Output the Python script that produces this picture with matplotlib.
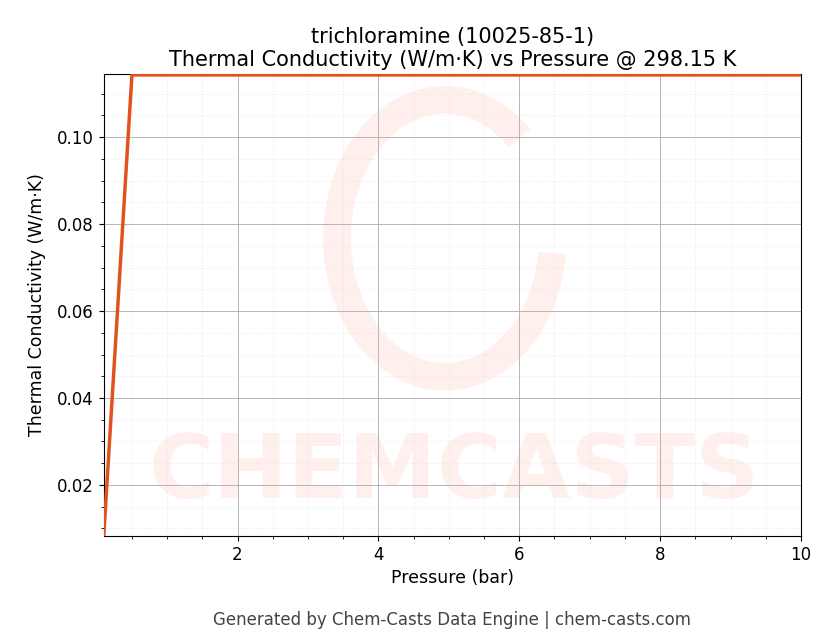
import matplotlib
matplotlib.use("Agg")
import matplotlib.pyplot as plt
from matplotlib.patches import Arc

pressure = [0.1, 0.5, 1, 2, 3, 4, 5, 6, 7, 8, 9, 10]
conductivity = [0.0083, 0.1143, 0.1143, 0.1143, 0.1143, 0.1143, 0.1143, 0.1143, 0.1143, 0.1143, 0.1143, 0.1143]

fig = plt.figure(figsize=(8.3, 6.44), dpi=100)
ax = fig.add_axes([0.125, 0.168, 0.84, 0.717])

# watermark
fig.text(0.547, 0.265, "CHEMCASTS", fontsize=64, fontweight="bold", color="#fff0ee",
         ha="center", va="center", zorder=-5)
arc = Arc((0.536, 0.63), 0.26, 0.43, theta1=60, theta2=350, transform=fig.transFigure,
          color="#fff0ee", lw=20, zorder=-5)
fig.patches.append(arc)

ax.set_facecolor("none")
ax.plot(pressure, conductivity, color="#e0531f", lw=2.5, zorder=3)
ax.set_xlim(0.1, 10)
ax.set_ylim(0.0083, 0.1145)
ax.set_xticks([2, 4, 6, 8, 10])
ax.set_yticks([0.02, 0.04, 0.06, 0.08, 0.10])
ax.minorticks_on()
ax.grid(which="major", color="#aaaaaa", lw=0.6)
ax.grid(which="minor", color="#dddddd", lw=0.4, ls=":")
ax.tick_params(labelsize=12)
ax.set_xlabel("Pressure (bar)", fontsize=12.5)
ax.set_ylabel("Thermal Conductivity (W/m·K)", fontsize=12.5, labelpad=8)
ax.set_title("trichloramine (10025-85-1)\nThermal Conductivity (W/m·K) vs Pressure @ 298.15 K", fontsize=15)
fig.text(0.545, 0.03, "Generated by Chem-Casts Data Engine | chem-casts.com", ha="center",
         fontsize=12, color="#444444")
fig.savefig("out.png", dpi=100)
